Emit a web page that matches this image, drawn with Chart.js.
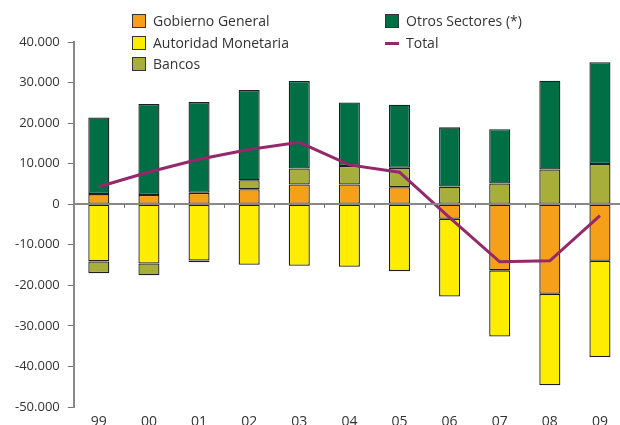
<!DOCTYPE html>
<html lang="es">

<head>
    <meta charset="UTF-8">
    <title>Deuda externa por sector</title>
    <style>
        html, body {
            margin: 0;
            padding: 0;
            background-color: #fff;
            overflow: hidden;
            font-family: "Open Sans", sans-serif;
            color: #333;
        }

        #chart {
            position: absolute;
            left: 0;
            top: 0;
        }

        #legend {
            position: absolute;
            left: 0;
            top: 0;
            font-size: 14px;
        }

        .item {
            position: absolute;
            white-space: nowrap;
            line-height: 20px;
        }

        .box {
            position: absolute;
            width: 12px;
            height: 12px;
            border: 1px solid #333;
        }

        .dash {
            position: absolute;
            width: 14px;
            height: 3px;
        }
    </style>
</head>

<body>
    <canvas id="chart" width="625" height="437"></canvas>
    <div id="legend"></div>

    <script src="https://cdn.jsdelivr.net/npm/chart.js"></script>
    <script>
        // Datos (millones)
        const years = ['99', '00', '01', '02', '03', '04', '05', '06', '07', '08', '09'];
        const gobiernoGeneral = [2500, 2300, 2800, 3700, 4850, 4850, 4200, -3600, -16300, -22100, -13950];
        const autoridadMonetaria = [-14100, -14600, -13900, -14950, -15200, -15400, -16500, -19150, -16300, -22550, -23750];
        const bancos = [-2900, -2900, -400, 2200, 3950, 4600, 4800, 4350, 5100, 8550, 9900];
        const otrosSectores = [18900, 22400, 22400, 22250, 21600, 15650, 15550, 14600, 13370, 21900, 25100];
        const total = [4300, 7950, 11100, 13500, 15270, 9700, 7900, -3300, -14200, -13950, -2800];

        const colors = {
            gobierno: '#F6A01A',
            autoridad: '#FFED00',
            bancos: '#A7AE3A',
            otros: '#006F46',
            total: '#93286A'
        };

        // Leyenda en dos columnas
        const legendItems = [
            { label: 'Gobierno General', color: colors.gobierno, x: 132, y: 21 },
            { label: 'Autoridad Monetaria', color: colors.autoridad, x: 132, y: 43 },
            { label: 'Bancos', color: colors.bancos, x: 132, y: 64 },
            { label: 'Otros Sectores (*)', color: colors.otros, x: 385, y: 21 },
            { label: 'Total', color: colors.total, x: 385, y: 43, line: true }
        ];
        const legend = document.getElementById('legend');
        legendItems.forEach(it => {
            const mark = document.createElement('div');
            if (it.line) {
                mark.className = 'dash';
                mark.style.left = it.x + 'px';
                mark.style.top = (it.y - 1) + 'px';
            } else {
                mark.className = 'box';
                mark.style.left = it.x + 'px';
                mark.style.top = (it.y - 7) + 'px';
            }
            mark.style.background = it.color;
            legend.appendChild(mark);
            const txt = document.createElement('div');
            txt.className = 'item';
            txt.textContent = it.label;
            txt.style.left = (it.x + 21) + 'px';
            txt.style.top = (it.y - 10) + 'px';
            legend.appendChild(txt);
        });

        function fmt(v) {
            const s = Math.abs(v).toString().replace(/\B(?=(\d{3})+(?!\d))/g, '.');
            return (v < 0 ? '-' : '') + s;
        }

        // Línea del cero encima de las barras, con marcas pequeñas entre categorías
        const zeroLine = {
            id: 'zeroLine',
            afterDatasetsDraw(chart) {
                const x = chart.scales.x, y = chart.scales.y;
                const y0 = Math.round(y.getPixelForValue(0));
                const c = chart.ctx;
                c.save();
                c.strokeStyle = '#888';
                c.lineWidth = 2;
                c.beginPath();
                c.moveTo(chart.chartArea.left, y0);
                c.lineTo(chart.chartArea.right, y0);
                c.stroke();
                c.strokeStyle = '#777';
                c.lineWidth = 1;
                for (let i = 1; i < years.length; i++) {
                    const px = Math.round((x.getPixelForValue(i - 1) + x.getPixelForValue(i)) / 2) + 0.5;
                    c.beginPath();
                    c.moveTo(px, y0);
                    c.lineTo(px, y0 + 4);
                    c.stroke();
                }
                c.restore();
            }
        };

        const barStyle = { borderColor: '#1e1e1e', borderWidth: 1.3, borderSkipped: false, barPercentage: 0.42, categoryPercentage: 1, order: 1, stack: 'a' };

        new Chart(document.getElementById('chart'), {
            data: {
                labels: years,
                datasets: [
                    { type: 'bar', label: 'Gobierno General', data: gobiernoGeneral, backgroundColor: colors.gobierno, ...barStyle },
                    { type: 'bar', label: 'Autoridad Monetaria', data: autoridadMonetaria, backgroundColor: colors.autoridad, ...barStyle },
                    { type: 'bar', label: 'Bancos', data: bancos, backgroundColor: colors.bancos, ...barStyle },
                    { type: 'bar', label: 'Otros Sectores (*)', data: otrosSectores, backgroundColor: colors.otros, ...barStyle },
                    { type: 'line', label: 'Total', data: total, borderColor: colors.total, borderWidth: 3, pointRadius: 0, tension: 0, order: 0, stack: 'line' }
                ]
            },
            options: {
                responsive: false,
                animation: false,
                layout: { padding: { top: 42, left: 7, right: 0, bottom: 0 } },
                plugins: { legend: { display: false }, tooltip: { enabled: false } },
                scales: {
                    x: {
                        stacked: true,
                        grid: { display: false, drawTicks: false },
                        border: { display: false },
                        ticks: { color: '#333', padding: 7, font: { family: 'Open Sans', size: 14 } },
                        afterFit(scale) { scale.height = 30; }
                    },
                    y: {
                        stacked: true,
                        min: -50000,
                        max: 40000,
                        grid: {
                            drawOnChartArea: false,
                            drawTicks: true,
                            tickLength: 6,
                            color: '#777',
                            tickColor: '#777',
                            tickWidth: 1
                        },
                        border: { display: true, color: '#888', width: 2 },
                        ticks: {
                            stepSize: 10000,
                            color: '#333',
                            padding: 8,
                            font: { family: 'Open Sans', size: 13 },
                            callback: v => fmt(v)
                        }
                    }
                }
            },
            plugins: [zeroLine]
        });
    </script>
</body>

</html>
